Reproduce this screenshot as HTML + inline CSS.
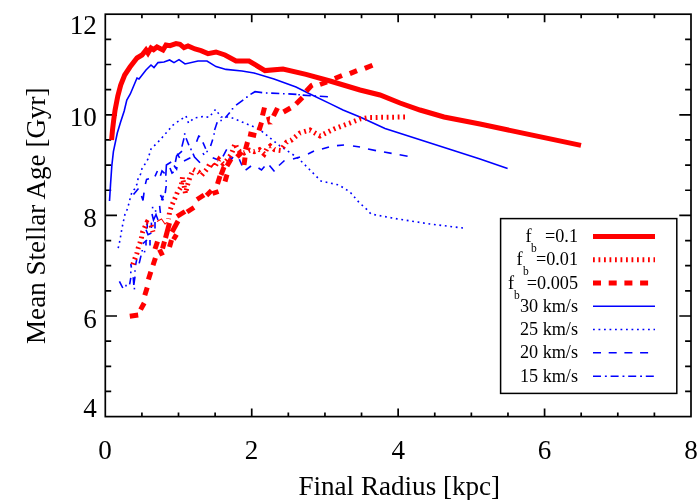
<!DOCTYPE html>
<html><head><meta charset="utf-8"><title>Mean Stellar Age vs Final Radius</title>
<style>
html,body{margin:0;padding:0;background:#fff;}
body{width:700px;height:500px;overflow:hidden;font-family:"Liberation Serif",serif;}
svg{display:block;will-change:transform;}
text{font-family:"Liberation Serif",serif;fill:#000;}
.ax{stroke:#000;stroke-width:1.7;fill:none;stroke-linecap:butt;}
.t{font-size:27.1px;}
.lg{font-size:18.2px;}
.sb{font-size:11.5px;}
</style></head><body>
<svg width="700" height="500" viewBox="0 0 700 500">
<rect x="0" y="0" width="700" height="500" fill="#fff"/>
<rect class="ax" x="105.3" y="14.2" width="585.7" height="402.40000000000003"/>
<path class="ax" d="M141.91,416.6v-4.0M141.91,14.2v4.0M178.51,416.6v-4.0M178.51,14.2v4.0M215.12,416.6v-4.0M215.12,14.2v4.0M251.73,416.6v-8.0M251.73,14.2v8.0M288.33,416.6v-4.0M288.33,14.2v4.0M324.94,416.6v-4.0M324.94,14.2v4.0M361.54,416.6v-4.0M361.54,14.2v4.0M398.15,416.6v-8.0M398.15,14.2v8.0M434.76,416.6v-4.0M434.76,14.2v4.0M471.36,416.6v-4.0M471.36,14.2v4.0M507.97,416.6v-4.0M507.97,14.2v4.0M544.58,416.6v-8.0M544.58,14.2v8.0M581.18,416.6v-4.0M581.18,14.2v4.0M617.79,416.6v-4.0M617.79,14.2v4.0M654.39,416.6v-4.0M654.39,14.2v4.0M105.3,391.45h5.9M691.0,391.45h-5.9M105.3,366.30h5.9M691.0,366.30h-5.9M105.3,341.15h5.9M691.0,341.15h-5.9M105.3,316.00h11.7M691.0,316.00h-11.7M105.3,290.85h5.9M691.0,290.85h-5.9M105.3,265.70h5.9M691.0,265.70h-5.9M105.3,240.55h5.9M691.0,240.55h-5.9M105.3,215.40h11.7M691.0,215.40h-11.7M105.3,190.25h5.9M691.0,190.25h-5.9M105.3,165.10h5.9M691.0,165.10h-5.9M105.3,139.95h5.9M691.0,139.95h-5.9M105.3,114.80h11.7M691.0,114.80h-11.7M105.3,89.65h5.9M691.0,89.65h-5.9M105.3,64.50h5.9M691.0,64.50h-5.9M105.3,39.35h5.9M691.0,39.35h-5.9"/>
<g fill="none" stroke-linejoin="miter" stroke-linecap="butt">
<polyline points="463,228 430,224 398,219 371,214 367,209.6 359,202.4 350,192 339,185 321,181 310,170 298,158 280,146 259,129 230,117 221,117 215.6,109.4 209,117.4 204,116.4 194,118 188.5,123 186,116 173,125 160,140 151,149 148,159 145,164 142,168.6 140.6,174 138,179 137,184 134.6,189 132,192 130.4,197.4 129,203 127.4,209 125,214 122,228 120,240 117.6,250.8" stroke="#0000ff" stroke-width="1.6" stroke-dasharray="1.8 3.7"/>
<g stroke="#0000ff" stroke-width="1.6"><polyline points="133.5,194.5 138.5,188.5"/><polyline points="141.5,196 143,200.5 144,192.6"/><polyline points="145.4,184 146.6,179.4 149,178.8"/><polyline points="155,176.4 157.4,171"/><polyline points="160.4,175.8 162,171 164.6,173.4"/><polyline points="170,168 172,173 173.6,172"/><polyline points="174,165.6 176.6,169 177,167"/><polyline points="184,161 190.4,157.8"/><polyline points="193,153.6 194.5,157 200,162.7"/><polyline points="203,153 204,155"/><polyline points="212.7,157.8 218.3,160"/><polyline points="223,156.4 226.7,149.4"/><polyline points="229.5,156.4 231.6,159.2 233,157"/><polyline points="239.3,159.2 242,165.5"/><polyline points="245.6,170.2 251,166"/><polyline points="258.5,168 261.5,170 264.5,166.5"/><polyline points="269.5,165.5 274.5,171.5"/><polyline points="279,165.5 284.5,160.5"/><polyline points="293,159 300,157"/><polyline points="308,154 314,151"/><polyline points="322,149 329,147"/><polyline points="337,145.6 344,145"/><polyline points="353,146 360,147"/><polyline points="368,149 376,150.6"/><polyline points="384,152 391.6,153.4"/><polyline points="399.6,154.8 407.6,156.2"/></g>
<g stroke="#0000ff" stroke-width="1.6"><polyline points="119.4,281.4 122.8,288"/><polyline points="125.2,285.6 126.8,285.6"/><polyline points="129.6,284.4 130.8,277.8"/><polyline points="133.2,277.2 133.8,285 135,276.6"/><polyline points="133.6,288.6 135.2,288.6"/><polyline points="130.0,272.4 131.6,272.4"/><polyline points="134.2,271.0 135.8,271.0"/><polyline points="130.8,264 131.4,267.6"/><polyline points="135.6,265.2 136.8,259.2"/><polyline points="139.2,263.4 141,255.6"/><polyline points="141.4,250.8 143.0,250.8"/><polyline points="143.8,251.6 145.4,251.6"/><polyline points="142.8,243.6 147,240"/><polyline points="150,240 150,245.4"/><polyline points="146,240.5 146,245.4"/><polyline points="147.2,222 147.2,228.6"/><polyline points="151.4,222.6 151.4,228"/><polyline points="155,222 155,228.6"/><polyline points="146,229.8 148,234.6 151.4,233"/><polyline points="152,214 153.5,220 156,214.5 158,220"/><polyline points="151.8,207.6 153.4,207.6"/><polyline points="154.8,211.0 156.4,211.0"/><polyline points="159.6,205.8 160.4,213"/><polyline points="160.4,195 163.4,200.4"/><polyline points="163.4,195.6 161.6,200.4"/><polyline points="165.2,193.2 166.2,186"/><polyline points="165.4,181.0 167.0,181.0"/><polyline points="165.8,175.8 166.4,165 171.2,162"/><polyline points="175.4,162 176.6,156 182,151.2"/><polyline points="177.2,153.6 179.6,157.8"/><polyline points="174.8,167.6 176.4,167.6"/><polyline points="181.9,146.6 184,138.2"/><polyline points="183.9,134.0 185.5,134.0"/><polyline points="186.1,138.2 188.9,145.2"/><polyline points="190.2,149.4 191.8,149.4"/><polyline points="196.6,141.7 198.7,136.1 200.1,136.8"/><polyline points="202.9,142.4 205.7,148.7"/><polyline points="206.3,151.5 207.9,151.5"/><polyline points="210.6,145.9 212.7,139.6"/><polyline points="213.3,134.0 214.9,134.0"/><polyline points="214.6,130 217.2,122.3"/><polyline points="220.3,120.5 221.9,120.5"/><polyline points="225.3,117.8 229.8,112.4"/><polyline points="231.7,108.8 233.3,108.8"/><polyline points="236.1,105.2 243.3,99.8"/><polyline points="246.1,97.1 247.7,97.1"/><polyline points="250.5,94.4 255,91.7 262.2,92.6"/><polyline points="265.9,93.0 267.5,93.0"/><polyline points="271.2,93.1 279.3,93.5"/><polyline points="283.0,93.7 284.6,93.7"/><polyline points="288.3,93.9 296.4,94.4"/><polyline points="298.3,94.8 299.9,94.8"/><polyline points="302.7,95.1 310.8,95.7"/><polyline points="314.5,96.0 316.1,96.0"/><polyline points="319.8,96.2 327.9,96.7"/></g>
<polyline points="109.5,201 110.5,185 111.8,166 113.4,151.6 117.3,133 120.6,122 124.2,111 126.8,100 130.3,94 137,78 139,79 146,70 151,65 154,67.6 158,62.6 164,62 169.6,60 174,62.6 179,59.6 185,64 198,61 207,61 216,66.6 226,69.4 242,71 254,73 274,79 296,87 310,94 330,103.6 343,110 360,117 385,128.6 452,150 480,159 507.6,168.4" stroke="#0000ff" stroke-width="1.6"/>
<polyline points="132.8,264.5 134.9,258.5 136.9,253.5 138.2,248 139.9,243 141.5,237.5 142.6,232 144.8,227 147,222.5 151,225 153,232" stroke="#ff0000" stroke-width="5.0" stroke-dasharray="1.8 3.7"/>
<polyline points="405,117 370,117.5 360,119 350,123 334,129 320,136 310,130 300,133 291.5,140 286.7,142 283.7,146.2 280.7,150.5 274.5,149.7 270.2,146 267,148.5 264.2,154 259.5,149.7 254,151.7 249.7,150.2 244,153 240,152 237.2,148.5 235,143.7 233.2,149.2 231,154.7 227,160 223,163.7 219,159.5 214.5,167 210,163.5 207,169 204.5,172 201.5,175.5 198.5,172 193.2,169.5 190.8,175 189.2,179.5 187.5,185 185.5,193.5 182.5,177 182,181.5 181,187 177.5,192 175.5,197 171.5,206 169.7,211.7 168.5,219" stroke="#ff0000" stroke-width="5.0" stroke-dasharray="1.8 3.7"/>
<polyline points="157,221.5 161.5,219 165,224 167,222.5" stroke="#ff0000" stroke-width="1.1"/>
<g stroke="#ff0000" stroke-width="5.0"><polyline points="129.8,316.2 138.2,315"/><polyline points="140.6,309.6 144.2,303"/><polyline points="144.8,295.2 147.2,287.4"/><polyline points="148.4,279.6 150.8,271.8"/><polyline points="153,265.2 155.4,258"/><polyline points="155,249 157.5,241.5"/><polyline points="159.5,249.5 162.5,255.5"/><polyline points="162.5,248.5 164.5,241.5"/><polyline points="169.5,247 171.5,240"/><polyline points="173.5,239.5 176.5,234.5"/><polyline points="165.5,238 169.5,223"/><polyline points="172,232 178,221"/><polyline points="177,216.5 185,211.5"/><polyline points="187,212 194,207.5"/><polyline points="197,199.5 204,195"/><polyline points="206.5,195.5 211.5,190.5"/><polyline points="212.5,193.5 218.5,191.5"/><polyline points="217.5,184 220,176"/><polyline points="225,181.5 227,174.5"/><polyline points="221,175 224,167"/><polyline points="227,166 231,159"/><polyline points="237,157 242,152"/><polyline points="244,165 245,157.5"/><polyline points="245.5,149.5 247.5,142"/><polyline points="248.2,133.8 256.2,135.6"/><polyline points="259,130.5 261.5,122.5"/><polyline points="262.5,115.5 264.5,107.5"/><polyline points="273.5,116 277.5,108"/><polyline points="283.5,112 290.5,108"/><polyline points="296,104 302.5,97.5"/><polyline points="306.2,91.2 311.5,85.5 312.5,85"/><polyline points="320,84.5 327,82"/><polyline points="334.8,78.5 342,75.5"/><polyline points="349.8,73.6 357,70.6"/><polyline points="364.8,68.4 372.5,65.2"/><polygon points="266,117.5 270.3,116 269.5,122 273,124.3 268,124.6" fill="#ff0000" stroke="none"/></g>
<polyline points="111.6,140 112.5,130 113.7,120 115.1,110 117.8,96 120.7,85 124.7,75 130,67 137,58 142,55 146,50 148,53 151,48 153.6,49.6 157,47 163,50 166,45 170,45.6 176,43.6 180,44.4 184,47.6 188,46 195,49 201,50.6 208,53.6 216,52 225,55 236,61 249,61 265,70.6 283,69 306,74.4 330,81 360,90 380,95 400,103 420,110 444,117 480,124 581,145.4" stroke="#ff0000" stroke-width="5.0"/>
</g>
<text class="t" x="105" y="458.5" text-anchor="middle">0</text>
<text class="t" x="251.6" y="458.5" text-anchor="middle">2</text>
<text class="t" x="398.2" y="458.5" text-anchor="middle">4</text>
<text class="t" x="544.6" y="458.5" text-anchor="middle">6</text>
<text class="t" x="691" y="458.5" text-anchor="middle">8</text>
<text class="t" x="96.8" y="34.0" text-anchor="end">12</text>
<text class="t" x="96.8" y="125.5" text-anchor="end">10</text>
<text class="t" x="96.8" y="226.6" text-anchor="end">8</text>
<text class="t" x="96.8" y="327.8" text-anchor="end">6</text>
<text class="t" x="96.8" y="416.5" text-anchor="end">4</text>
<text class="t" x="399.3" y="494.5" text-anchor="middle">Final Radius [kpc]</text>
<text class="t" transform="translate(45.2,215.7) rotate(-90)" text-anchor="middle">Mean Stellar Age [Gyr]</text>
<rect x="500.6" y="218.6" width="176.2" height="174.8" fill="#fff" stroke="#000" stroke-width="1.5"/>
<g fill="none" stroke-linecap="butt">
<path d="M593,236.4H655" stroke="#ff0000" stroke-width="5.0"/>
<path d="M593,259.7H655" stroke="#ff0000" stroke-width="5.0" stroke-dasharray="1.8 3.7"/>
<path d="M593,283.0H655" stroke="#ff0000" stroke-width="5.0" stroke-dasharray="8 7.7"/>
<path d="M593,306.2H655" stroke="#0000ff" stroke-width="1.6"/>
<path d="M593,329.5H655" stroke="#0000ff" stroke-width="1.6" stroke-dasharray="1.8 3.7"/>
<path d="M593,352.8H655" stroke="#0000ff" stroke-width="1.6" stroke-dasharray="8 7.7"/>
<path d="M593,376.2H655" stroke="#0000ff" stroke-width="1.6" stroke-dasharray="8 3.9 1.9 3.8"/>
</g>
<text class="lg" x="525.4" y="241.9">f</text><text class="sb" x="531" y="251.9">b</text><text class="lg" x="578" y="241.9" text-anchor="end">=0.1</text>
<text class="lg" x="516.4" y="265.2">f</text><text class="sb" x="523" y="275.2">b</text><text class="lg" x="578" y="265.2" text-anchor="end">=0.01</text>
<text class="lg" x="508" y="288.5">f</text><text class="sb" x="514" y="298.5">b</text><text class="lg" x="578" y="288.5" text-anchor="end">=0.005</text>
<text class="lg" x="578" y="311.7" text-anchor="end">30 km/s</text>
<text class="lg" x="578" y="335.0" text-anchor="end">25 km/s</text>
<text class="lg" x="578" y="358.3" text-anchor="end">20 km/s</text>
<text class="lg" x="578" y="381.7" text-anchor="end">15 km/s</text>
</svg>
</body></html>
